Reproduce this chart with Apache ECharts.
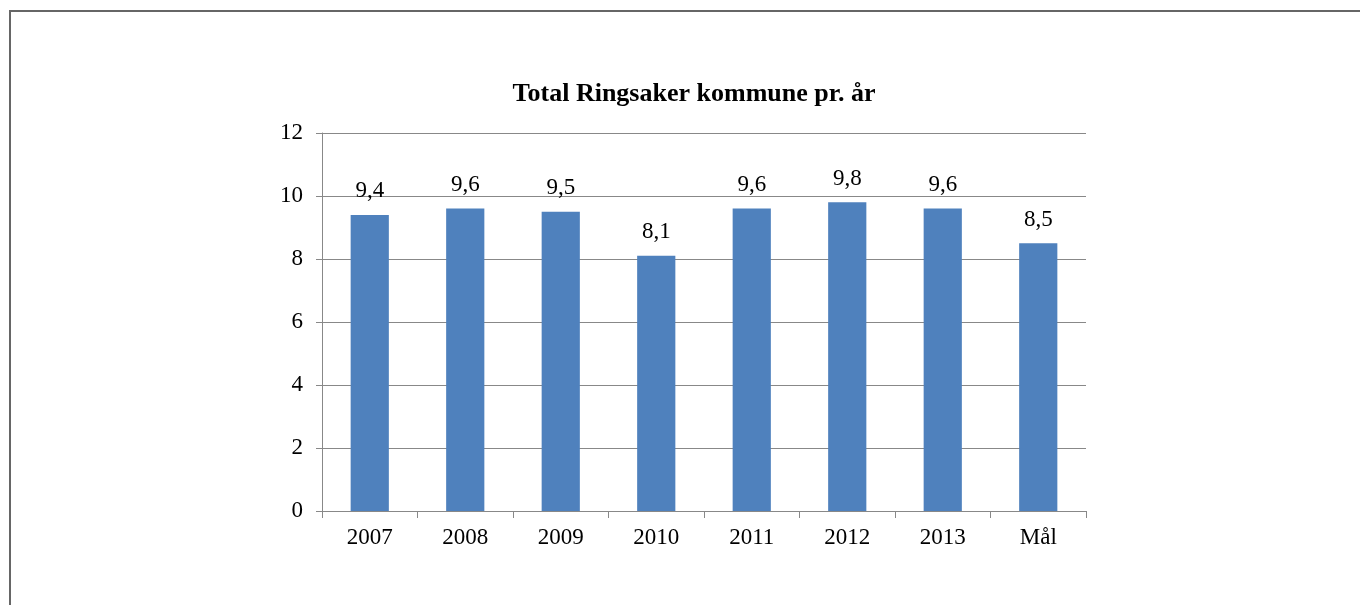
<!DOCTYPE html>
<html>
<head>
<meta charset="utf-8">
<script src="https://cdn.jsdelivr.net/npm/echarts@6/dist/echarts.min.js"></script>
<style>
  html, body { margin: 0; padding: 0; background: #fff; overflow: hidden; }
  #frame {
    position: absolute; left: 9px; top: 10px; width: 1400px; height: 700px;
    border-top: 2px solid #666; border-left: 2px solid #666;
  }
  #chart { position: absolute; left: 0; top: 0; width: 1360px; height: 605px; }
</style>
</head>
<body>
<div id="frame"></div>
<div id="chart"></div>
<script>
// kategorier og verdier
const categories = ["2007", "2008", "2009", "2010", "2011", "2012", "2013", "Mål"];
const values = [9.4, 9.6, 9.5, 8.1, 9.6, 9.8, 9.6, 8.5];
const yTicks = { min: 0, max: 12, interval: 2 };

const chart = echarts.init(document.getElementById("chart"));
const serif = "'Liberation Serif', 'Times New Roman', serif";

chart.setOption({
  animation: false,
  title: {
    text: "Total Ringsaker kommune pr. år",
    left: 689,
    textAlign: "center",
    top: 76,
    textStyle: { fontFamily: serif, fontSize: 26, fontWeight: "bold", color: "#000" }
  },
  grid: { left: 322, right: 274, top: 133, bottom: 94 },
  xAxis: {
    type: "category",
    data: categories,
    axisLine: { lineStyle: { color: "#888", width: 1 } },
    axisTick: { show: true, length: 7, lineStyle: { color: "#888" } },
    axisLabel: { fontFamily: serif, fontSize: 23, color: "#000", margin: 15 }
  },
  yAxis: {
    type: "value",
    min: yTicks.min,
    max: yTicks.max,
    interval: yTicks.interval,
    axisLine: { show: true, lineStyle: { color: "#888", width: 1 } },
    axisTick: { show: true, length: 6, lineStyle: { color: "#888" } },
    axisLabel: { fontFamily: serif, fontSize: 23, color: "#000", margin: 19 },
    splitLine: { show: true, lineStyle: { color: "#888", width: 1 } }
  },
  series: [
    {
      type: "bar",
      data: values,
      barWidth: "40%",
      itemStyle: { color: "#4f81bd" },
      label: {
        show: true,
        position: "top",
        distance: 12,
        fontFamily: serif,
        fontSize: 23,
        color: "#000",
        formatter: p => String(p.value).replace(".", ",")
      }
    }
  ]
});
</script>
</body>
</html>
